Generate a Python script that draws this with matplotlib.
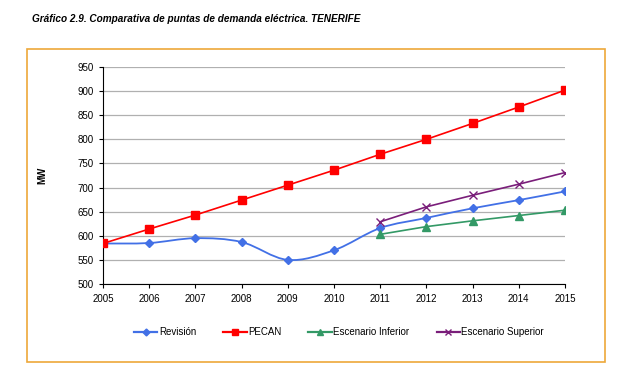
import numpy as np
import matplotlib.pyplot as plt
from matplotlib.path import Path
from matplotlib.patches import PathPatch, Rectangle
from matplotlib.lines import Line2D

years = [2005, 2006, 2007, 2008, 2009, 2010, 2011, 2012, 2013, 2014, 2015]
revision = [584, 585, 595, 587, 550, 570, 616, 637, 657, 674, 692]
pecan = [584, 614, 643, 674, 705, 736, 769, 800, 833, 867, 902]
years_esc = [2011, 2012, 2013, 2014, 2015]
inferior = [603, 619, 631, 642, 653]
superior = [629, 660, 684, 707, 731]

labels = ["Revisión", "PECAN", "Escenario Inferior", "Escenario Superior"]
c_rev = "#4270E6"
c_pecan = "#FF0000"
c_inf = "#339966"
c_sup = "#7A1E7A"


def smooth_path(x, y):
    # excel-like smoothed line: bezier segments with catmull-rom control points
    x = np.asarray(x, float)
    y = np.asarray(y, float)
    verts = [(x[0], y[0])]
    codes = [Path.MOVETO]
    n = len(x)
    for i in range(n - 1):
        p0 = (x[max(i - 1, 0)], y[max(i - 1, 0)])
        p1 = (x[i], y[i])
        p2 = (x[i + 1], y[i + 1])
        p3 = (x[min(i + 2, n - 1)], y[min(i + 2, n - 1)])
        c1 = (p1[0] + (p2[0] - p0[0]) / 6, p1[1] + (p2[1] - p0[1]) / 6)
        c2 = (p2[0] - (p3[0] - p1[0]) / 6, p2[1] - (p3[1] - p1[1]) / 6)
        verts += [c1, c2, p2]
        codes += [Path.CURVE4] * 3
    return Path(verts, codes)


plt.rcParams['font.family'] = ['Liberation Sans', 'DejaVu Sans']

fig = plt.figure(figsize=(6.27, 3.91), dpi=100)
fig.patches.append(Rectangle((27 / 627, 1 - 362 / 391), 578 / 627, 313 / 391,
                             transform=fig.transFigure, fill=False,
                             edgecolor="#EDA83A", linewidth=1.2))
fig.text(32 / 627, 1 - 19 / 391,
         "Gráfico 2.9. Comparativa de puntas de demanda eléctrica. TENERIFE",
         style="italic", fontweight="bold", fontsize=7.2, va="center", ha="left")

ax = fig.add_axes([103 / 627, 1 - 284 / 391, 462 / 627, 217 / 391])

ax.add_patch(PathPatch(smooth_path(years, revision), fill=False,
                       edgecolor=c_rev, linewidth=1.3, zorder=3))
ax.plot(years, revision, linestyle="none", marker="D", color=c_rev,
        markersize=4, zorder=4)
ax.plot(years, pecan, color=c_pecan, marker="s", markersize=6, linewidth=1.2, zorder=4)
ax.plot(years_esc, inferior, color=c_inf, marker="^", markersize=6, linewidth=1.2, zorder=4)
ax.plot(years_esc, superior, color=c_sup, marker="x", markersize=6,
        markeredgewidth=1.0, linewidth=1.2, zorder=4)

ax.set_xlim(2005, 2015)
ax.set_ylim(500, 950)
ax.set_xticks(years)
ax.set_yticks(np.arange(500, 951, 50))
ax.yaxis.grid(True, color="#B0B0B0", linewidth=0.9)
ax.set_axisbelow(True)
for s in ["top", "right"]:
    ax.spines[s].set_visible(False)
ax.tick_params(labelsize=7, length=3, width=0.8, direction="out")
ax.tick_params(axis="x", pad=4)
ax.set_ylabel("MW", fontsize=7, fontweight="bold", labelpad=22)

handles = [
    Line2D([], [], color=c_rev, marker="D", markersize=3.5, linewidth=1.6),
    Line2D([], [], color=c_pecan, marker="s", markersize=4.5, linewidth=1.6),
    Line2D([], [], color=c_inf, marker="^", markersize=4.5, linewidth=1.6),
    Line2D([], [], color=c_sup, marker="x", markersize=4.5, linewidth=1.6),
]
fig.legend(handles, labels, loc="center", bbox_to_anchor=(339 / 627, 1 - 332 / 391),
           ncol=4, frameon=False, fontsize=7, handlelength=2.4, handletextpad=0.15,
           columnspacing=2.8)

fig.savefig("out.png", dpi=100)
